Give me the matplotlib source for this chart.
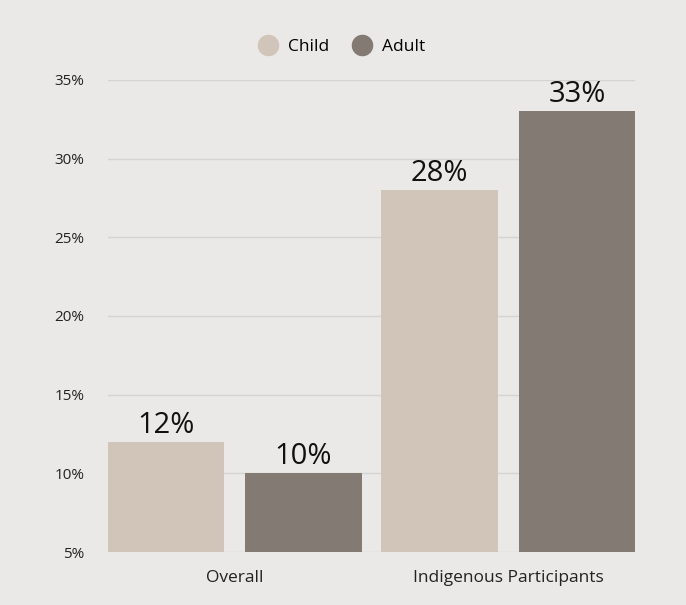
import matplotlib
matplotlib.use("Agg")
import matplotlib.pyplot as plt
from matplotlib.lines import Line2D
import numpy as np

plt.rcParams['font.family'] = ['Open Sans', 'DejaVu Sans']

# data
groups = ["Overall", "Indigenous Participants"]
series = ["Child", "Adult"]
child = [12, 28]
adult = [10, 33]
yticks = [5, 10, 15, 20, 25, 30, 35]

bg = "#ebe9e7"
colors = {"Child": "#d1c5ba", "Adult": "#837a73"}

fig = plt.figure(figsize=(6.86, 6.05), dpi=100, facecolor=bg)
ax = fig.add_axes([0.1574, 0.0876, 0.7683, 0.7802], facecolor=bg)

x = np.arange(len(groups))
w = 0.425
off = 0.251
for vals, name, sign in [(child, "Child", -1), (adult, "Adult", 1)]:
    ax.bar(x + sign * off, vals, width=w, color=colors[name], zorder=3)
    for xi, v in zip(x + sign * off, vals):
        ax.text(xi, v + 0.15, f"{v}%", ha="center", va="bottom", fontsize=21, color="#111111", zorder=4)

ax.set_ylim(5, 35)
ax.set_xlim(-0.463, 1.463)
ax.set_yticks(yticks)
ax.set_yticklabels([f"{t}%" for t in yticks], fontsize=11, color="#222222")
ax.set_xticks(x)
ax.set_xticklabels(groups, fontsize=12.5, color="#222222")
ax.tick_params(axis="y", length=0, pad=17)
ax.tick_params(axis="x", length=0, pad=13)
ax.grid(axis="y", color="#d6d4d1", linewidth=1, zorder=0)
for s in ax.spines.values():
    s.set_visible(False)

handles = [Line2D([], [], marker="o", linestyle="none", markersize=14.5,
                  markerfacecolor=colors[n], markeredgecolor=colors[n], label=n) for n in series]
fig.legend(handles=handles, loc="center", bbox_to_anchor=(0.4925, 0.922), ncol=2,
           frameon=False, fontsize=12.5, handletextpad=0.15, columnspacing=0.9)

fig.savefig("out.png", dpi=100, facecolor=bg)
